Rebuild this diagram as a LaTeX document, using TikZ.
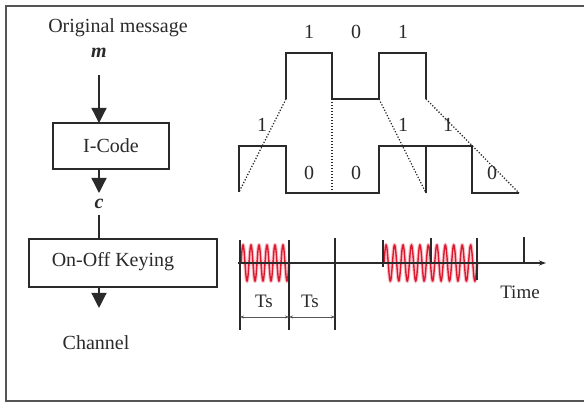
\documentclass[tikz,border=0pt]{standalone}
\usepackage{fontspec}
\setmainfont{Liberation Serif}
\usetikzlibrary{arrows.meta}
\definecolor{ink}{HTML}{2A2A2A}
\definecolor{framegray}{HTML}{555555}
\definecolor{carrier}{RGB}{220,25,45}
\definecolor{carrierhaze}{RGB}{245,150,165}
\tikzset{
  lbl/.style={inner sep=0pt, outer sep=0pt, text=ink, font=\fontsize{20}{24}\selectfont},
  small/.style={inner sep=0pt, outer sep=0pt, text=ink, font=\fontsize{19}{22}\selectfont},
  blockbox/.style={draw=ink, line width=1.3pt, inner sep=0pt, outer sep=0pt},
  flow/.style={draw=ink, line width=1.3pt, -{Triangle[length=15pt,width=15pt]}},
  plain/.style={draw=ink, line width=1.3pt},
  wave/.style={draw=ink, line width=1.4pt, line join=miter},
  dots/.style={draw=ink, line width=1.3pt, dash pattern=on 1.2pt off 1.8pt},
  tick/.style={draw=ink, line width=1.2pt},
  carrierline/.style={draw=carrier, line width=1.4pt},
  carrierfuzz/.style={draw=carrierhaze, line width=3.5pt, opacity=0.6},
  dim/.style={draw=ink!80, line width=0.7pt, {Stealth[length=4pt,width=3pt]}-{Stealth[length=4pt,width=3pt]}}
}
\begin{document}
\begin{tikzpicture}[x=1pt,y=-1pt]
\useasboundingbox (0,0) rectangle (584,403);
\fill[white] (0,0) rectangle (584,403);

% outer frame (open on the right)
\draw[framegray, line width=1.6pt] (590,6) -- (6,6) -- (6,401) -- (590,401);

% ---- block chain ----
\node[lbl] (orig) at (118,28) {Original message};
\node[lbl] (m) at (99,53) {\textbf{\textit{m}}};
\node[blockbox, minimum width=116pt, minimum height=46pt] (icode) at (111,146) {};
\node[lbl] (icodetxt) at (111,146) {I-Code};
\node[lbl] (c) at (99,204) {\textbf{\textit{c}}};
\node[blockbox, minimum width=188pt, minimum height=48pt] (ook) at (123,263) {};
\node[lbl] (ooktxt) at (113,262) {On-Off Keying};
\node[lbl] (channel) at (96,343) {Channel};

\draw[flow, shorten <=17pt] (m.south) -- (m.south |- icode.north);
\draw[flow] (icode.south -| m) -- ++(0,24);
\draw[plain, shorten <=6pt] (c.south) -- (c.south |- ook.north);
\draw[flow, shorten >=28pt] (ook.south -| c) -- (channel.north -| c);

% ---- bit labels of the message ----
\node[lbl] (t1) at (309,32) {1};
\node[lbl] (t2) at (356,32) {0};
\node[lbl] (t3) at (403,32) {1};

% message waveform
\draw[wave] (286,99) -- (286,53) -- (332,53) -- (332,99) -- (379,99)
            -- (379,53) -- (426,53) -- (426,99);

% coded waveform
\draw[wave] (239,192) -- (239,146) -- (286,146) -- (286,193) -- (379,193)
            -- (379,146) -- (472,146) -- (472,193) -- (519,193);
\draw[wave] (426,146) -- (426,193);

% projections between the two waveforms
\draw[dots] (286,99) -- (239,192);
\draw[dots] (332,99) -- (332,193);
\draw[dots] (379,99) -- (426,193);
\draw[dots] (426,99) -- (519,193);

% code bit labels
\node[lbl] (b1) at (262,125) {1};
\node[lbl] (b2) at (309,173) {0};
\node[lbl] (b3) at (356,173) {0};
\node[lbl] (b4) at (403,125) {1};
\node[lbl] (b5) at (448,125) {1};
\node[lbl] (b6) at (492,173) {0};

% ---- keyed carrier on the time axis ----
\draw[carrierfuzz] plot[domain=241:289, samples=240, smooth] (\x, {263-18*sin(45*(\x-241))});
\draw[carrierfuzz] plot[domain=384:477, samples=400, smooth] (\x, {263-18*sin(42.58*(\x-384))});
\draw[carrierline] plot[domain=241:289, samples=240, smooth] (\x, {263-18*sin(45*(\x-241))});
\draw[carrierline] plot[domain=384:477, samples=400, smooth] (\x, {263-18*sin(42.58*(\x-384))});

\draw[ink, line width=1.4pt, -{Stealth[length=7pt,width=5pt]}] (238,263) -- (546,263);

\draw[tick] (240,240) -- (240,330);
\draw[tick] (289,240) -- (289,330);
\draw[tick] (335,238) -- (335,330);
\draw[tick] (383,240) -- (383,267);
\draw[tick] (431,238) -- (431,263);
\draw[tick] (477,238) -- (477,280);
\draw[tick] (524,237) -- (524,263);

\node[small] (time) at (520,292) {Time};
\node[small] (ts1) at (264,301) {Ts};
\node[small] (ts2) at (310,301) {Ts};

\draw[dim] (240,317) -- (289,317);
\draw[dim] (289,317) -- (335,317);
\end{tikzpicture}
\end{document}
